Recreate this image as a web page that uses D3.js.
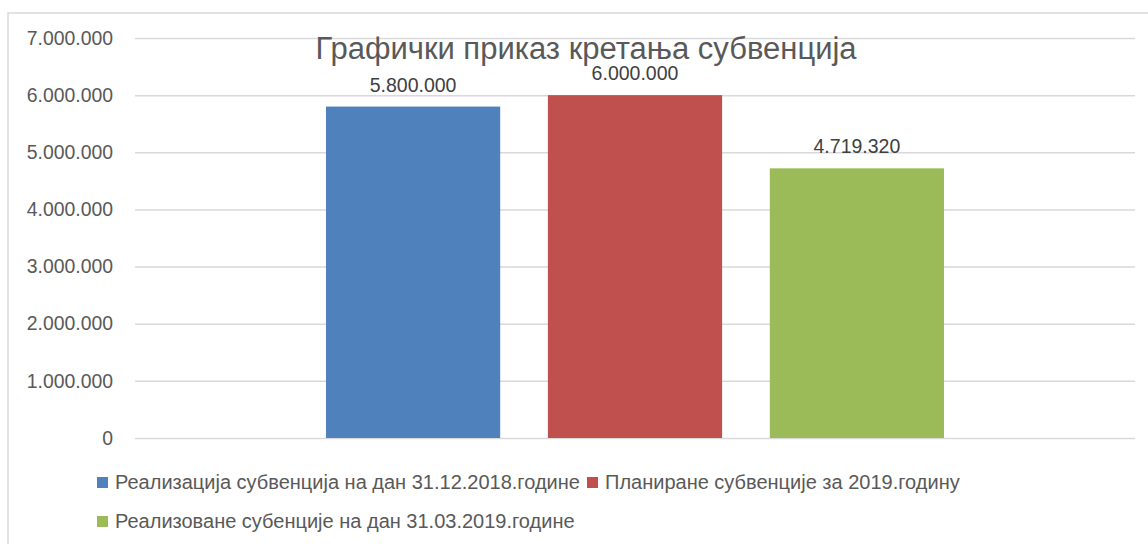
<!DOCTYPE html>
<html>
<head>
<meta charset="utf-8">
<script src="https://cdn.jsdelivr.net/npm/d3@7"></script>
<style>
  body { margin: 0; background: #fff; }
  svg { display: block; font-family: "Liberation Sans", Arial, sans-serif; }
</style>
</head>
<body>
<div id="container"></div>
<script>
/* DATA */
const title = "Графички приказ кретања субвенција";
const category = ["Субвенције"];
const seriesNames = [
  "Реализација субвенција на дан 31.12.2018.године",
  "Планиране субвенције за 2019.годину",
  "Реализоване субенције на дан 31.03.2019.године"
];
const seriesValues = [5800000, 6000000, 4719320];
const seriesColors = ["#4f81bd", "#c0504d", "#9bbb59"];
const yTicks = [0, 1000000, 2000000, 3000000, 4000000, 5000000, 6000000, 7000000];

/* CONSTANTS */
const width = 1148, height = 544;
const margin = {top: 38, right: 13, bottom: 105, left: 135};

const locale = d3.formatLocale({decimal: ",", thousands: ".", grouping: [3], currency: ["", ""]});
const fmt = locale.format(",d");

const svg = d3.select("#container")
  .append("svg")
  .attr("width", width)
  .attr("height", height);

// chart frame (top + left edge visible)
svg.append("rect")
  .attr("x", 8).attr("y", 13)
  .attr("width", width).attr("height", height)
  .attr("fill", "none")
  .attr("stroke", "#d9d9d9")
  .attr("stroke-width", 1.5);

const y = d3.scaleLinear()
  .domain([0, 7000000])
  .range([height - margin.bottom - 1, margin.top]);

const x0 = d3.scaleBand()
  .domain(category)
  .range([margin.left, width - margin.right])
  .paddingOuter(0.309);

const x1 = d3.scaleBand()
  .domain(seriesNames)
  .range([0, x0.bandwidth()])
  .paddingInner(0.215);

// y axis with gridlines
const yAxis = g => g
  .attr("transform", `translate(${margin.left},0)`)
  .call(d3.axisLeft(y).tickValues(yTicks).tickFormat(fmt)
    .tickSize(-(width - margin.right - margin.left)).tickPadding(22))
  .call(g => g.select(".domain").remove())
  .call(g => g.selectAll(".tick line").attr("stroke", "#d9d9d9").attr("stroke-width", 1.5))
  .call(g => g.selectAll(".tick text")
    .attr("fill", "#595959")
    .attr("font-size", 19.4)
    .attr("font-family", "Liberation Sans, Arial, sans-serif"));

svg.append("g").call(yAxis);

// bars
const groups = svg.append("g")
  .selectAll("g")
  .data(category)
  .join("g")
  .attr("transform", d => `translate(${x0(d)},0)`);

const barData = seriesNames.map((s, i) => ({name: s, value: seriesValues[i], color: seriesColors[i]}));

groups.selectAll("rect")
  .data(barData)
  .join("rect")
  .attr("x", d => x1(d.name))
  .attr("y", d => y(d.value))
  .attr("width", x1.bandwidth())
  .attr("height", d => y(0) - y(d.value))
  .attr("fill", d => d.color);

// title
svg.append("text")
  .attr("x", 586)
  .attr("y", 59)
  .attr("text-anchor", "middle")
  .attr("fill", "#595959")
  .attr("font-size", 31)
  .text(title);

groups.selectAll("text.lbl")
  .data(barData)
  .join("text")
  .attr("class", "lbl")
  .attr("x", d => x1(d.name) + x1.bandwidth() / 2)
  .attr("y", d => y(d.value) - 15)
  .attr("text-anchor", "middle")
  .attr("fill", "#404040")
  .attr("font-size", 19.5)
  .text(d => fmt(d.value));

// legend
const legendPos = [
  {x: 97, y: 482},
  {x: 587, y: 482},
  {x: 97, y: 521}
];
const legend = svg.append("g")
  .selectAll("g")
  .data(barData)
  .join("g")
  .attr("transform", (d, i) => `translate(${legendPos[i].x},${legendPos[i].y})`);

legend.append("rect")
  .attr("x", 0).attr("y", -5)
  .attr("width", 11).attr("height", 11)
  .attr("fill", d => d.color);

legend.append("text")
  .attr("x", 18)
  .attr("y", 0)
  .attr("dy", "0.35em")
  .attr("fill", "#595959")
  .attr("font-size", 20)
  .text(d => d.name);
</script>
</body>
</html>
